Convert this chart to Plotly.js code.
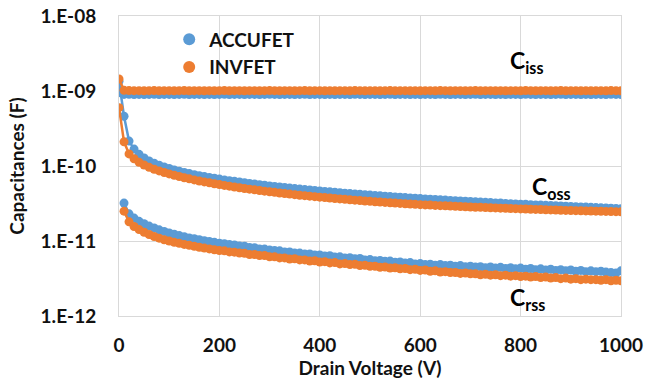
<!DOCTYPE html>
<html>
<head>
<meta charset="utf-8">
<script src="https://cdn.plot.ly/plotly-3.0.1.min.js"></script>
<style>html,body{margin:0;padding:0;background:#fff;}#chart{width:660px;height:379px;}</style>
</head>
<body>
<div id="chart"></div>
<script>
// Drain voltage (V)
const voltage = [0,10,20,30,40,50,60,70,80,90,100,110,120,130,140,150,160,170,180,190,200,210,220,230,240,250,260,270,280,290,300,310,320,330,340,350,360,370,380,390,400,410,420,430,440,450,460,470,480,490,500,510,520,530,540,550,560,570,580,590,600,610,620,630,640,650,660,670,680,690,700,710,720,730,740,750,760,770,780,790,800,810,820,830,840,850,860,870,880,890,900,910,920,930,940,950,960,970,980,990,1000];

// Capacitances in pF
const accufetCiss = [950,900,902,898,901,899,900,902,899,900,901,898,900,902,899,900,901,899,900,898,900,902,899,901,900,898,900,901,899,900,902,900,899,901,900,898,900,902,899,900,901,899,900,898,901,900,899,902,900,899,900,901,898,900,902,899,900,901,899,900,898,901,900,899,902,900,899,901,900,898,900,902,899,900,901,899,900,898,901,900,899,902,900,899,900,901,898,900,902,899,900,901,899,900,898,901,900,899,902,900,899];
const invfetCiss = [1450,1020,1012,1010,1011,1009,1010,1012,1009,1010,1011,1008,1010,1012,1009,1010,1011,1009,1010,1008,1010,1012,1009,1011,1010,1008,1010,1011,1009,1010,1012,1010,1009,1011,1010,1008,1010,1012,1009,1010,1011,1009,1010,1008,1011,1010,1009,1012,1010,1009,1010,1011,1008,1010,1012,1009,1010,1011,1009,1010,1008,1011,1010,1009,1012,1010,1009,1011,1010,1008,1010,1012,1009,1010,1011,1009,1010,1008,1011,1010,1009,1012,1010,1009,1010,1011,1008,1010,1012,1009,1010,1011,1009,1010,1008,1011,1010,1009,1012,1010,1009];

const accufetCoss = [1350,460,215,168,143,128,117,109,102.5,97,92.5,88.5,85,82,79.2,76.7,74.4,72.3,70.4,68.6,66.9,65.3,63.8,62.4,61.1,59.8,58.6,57.5,56.4,55.3,54.3,53.4,52.5,51.6,50.8,50.0,49.2,48.5,47.8,47.1,46.4,45.8,45.2,44.6,44.0,43.4,42.9,42.4,41.9,41.4,40.9,40.4,40.0,39.5,39.1,38.7,38.3,37.9,37.5,37.1,36.8,36.4,36.1,35.7,35.4,35.1,34.8,34.5,34.2,33.9,33.6,33.3,33.0,32.8,32.5,32.2,32.0,31.7,31.5,31.2,31.0,30.8,30.5,30.3,30.1,29.9,29.7,29.5,29.3,29.1,28.9,28.7,28.5,28.3,28.1,27.9,27.7,27.6,27.4,27.2,27.0];
const invfetCoss = [600,210,145,125,112,103,96,90.5,86,82,78.5,75.3,72.4,69.8,67.4,65.2,63.2,61.3,59.6,58.0,56.5,55.1,53.8,52.5,51.3,50.2,49.1,48.1,47.1,46.2,45.3,44.5,43.7,42.9,42.2,41.5,40.8,40.2,39.6,39.0,38.4,37.9,37.4,36.9,36.4,35.9,35.5,35.0,34.6,34.2,33.8,33.4,33.1,32.7,32.4,32.0,31.7,31.4,31.1,30.8,30.5,30.3,30.1,29.8,29.6,29.4,29.2,29.0,28.8,28.6,28.4,28.2,28.1,27.9,27.8,27.6,27.4,27.3,27.1,27.0,26.8,26.7,26.5,26.4,26.3,26.1,26.0,25.9,25.7,25.6,25.5,25.4,25.3,25.2,25.1,25.0,24.9,24.8,24.7,24.6,24.5];

const accufetCrss = [null,32,23,20.2,18.3,17.0,15.8,14.9,14.1,13.4,12.8,12.3,11.8,11.4,11.0,10.7,10.4,10.1,9.85,9.6,9.35,9.2,8.95,8.85,8.55,8.5,8.2,8.15,7.85,7.8,7.6,7.45,7.4,7.15,7.15,6.9,6.9,6.7,6.7,6.5,6.5,6.3,6.35,6.1,6.15,5.95,6.0,5.8,5.85,5.6,5.65,5.45,5.5,5.35,5.4,5.2,5.25,5.1,5.15,4.95,5.0,4.85,4.9,4.75,4.85,4.7,4.75,4.6,4.7,4.55,4.6,4.5,4.55,4.4,4.5,4.35,4.45,4.3,4.4,4.25,4.35,4.2,4.3,4.15,4.25,4.1,4.2,4.05,4.15,4.0,4.1,3.95,4.05,3.9,4.0,3.9,3.95,3.85,3.8,3.75,4.0];
const invfetCrss = [null,25,18,15.6,14.2,13.1,12.2,11.5,10.9,10.4,10.0,9.6,9.3,9.0,8.75,8.5,8.25,8.05,7.85,7.65,7.45,7.4,7.15,7.1,6.9,6.85,6.6,6.6,6.4,6.4,6.15,6.15,5.95,5.95,5.75,5.8,5.6,5.6,5.4,5.45,5.25,5.3,5.1,5.15,4.95,5.0,4.85,4.9,4.7,4.75,4.6,4.6,4.45,4.5,4.35,4.4,4.25,4.3,4.15,4.2,4.05,4.1,3.95,4.0,3.85,3.9,3.8,3.8,3.7,3.75,3.65,3.65,3.55,3.6,3.5,3.55,3.45,3.5,3.4,3.45,3.35,3.4,3.3,3.35,3.25,3.3,3.2,3.25,3.15,3.2,3.1,3.15,3.05,3.1,3.05,3.05,3.0,3.05,2.95,3.0,2.95];

const yTickVals = [1e-12, 1e-11, 1e-10, 1e-9, 1e-8];
const yTickText = ['1.E-12', '1.E-11', '1.E-10', '1.E-09', '1.E-08'];
const seriesNames = ['ACCUFET', 'INVFET'];
const curveLabels = ['C<sub>iss</sub>', 'C<sub>oss</sub>', 'C<sub>rss</sub>'];

const BLUE = '#5B9BD5', ORANGE = '#ED7D31';
const FONT = 'Lato, "Open Sans", sans-serif';
const toF = arr => arr.map(v => v === null ? null : v * 1e-12);

function curve(y, color) {
  return {x: voltage, y: toF(y), type: 'scatter', mode: 'lines+markers',
    line: {color: color, width: 2.5}, marker: {color: color, size: 9},
    showlegend: false, hoverinfo: 'skip'};
}

const data = [
  curve(accufetCiss, BLUE), curve(accufetCoss, BLUE), curve(accufetCrss, BLUE),
  curve(invfetCiss, ORANGE), curve(invfetCoss, ORANGE), curve(invfetCrss, ORANGE),
  {x: [null], y: [null], type: 'scatter', mode: 'markers', name: seriesNames[0], marker: {color: BLUE, size: 10}, showlegend: true},
  {x: [null], y: [null], type: 'scatter', mode: 'markers', name: seriesNames[1], marker: {color: ORANGE, size: 10}, showlegend: true}
];

const annFont = {family: FONT, size: 23, color: '#000', weight: 700};
const tickFont = {family: FONT, size: 19, weight: 700, color: '#111'};
const layout = {
  width: 660, height: 379,
  margin: {l: 119, r: 39, t: 16, b: 63},
  paper_bgcolor: '#fff', plot_bgcolor: '#fff',
  font: {family: FONT, color: '#000'},
  xaxis: {
    range: [0, 1000], dtick: 200, tick0: 0,
    showgrid: true, gridcolor: '#D9D9D9', gridwidth: 1,
    showline: true, linecolor: '#D9D9D9', mirror: true, zeroline: false,
    ticks: '', ticklabelstandoff: 12,
    tickfont: tickFont,
    title: {text: 'Drain Voltage (V)', font: {family: FONT, size: 19, weight: 700, color: '#111'}, standoff: 0}
  },
  yaxis: {
    type: 'log', range: [-12, -8],
    tickvals: yTickVals, ticktext: yTickText,
    showgrid: true, gridcolor: '#D9D9D9', gridwidth: 1,
    showline: true, linecolor: '#D9D9D9', mirror: true, zeroline: false,
    ticks: '', ticklabelstandoff: 18,
    tickfont: tickFont,
    title: {text: 'Capacitances (F)', font: {family: FONT, size: 19, weight: 700, color: '#111'}, standoff: 10}
  },
  legend: {
    x: 0.1, y: 0.985, xanchor: 'left', yanchor: 'top',
    bgcolor: 'rgba(0,0,0,0)', itemsizing: 'constant', itemwidth: 30,
    font: {family: FONT, size: 19, weight: 700, color: '#111'}
  },
  annotations: [
    {x: 775, y: -8.6, xref: 'x', yref: 'y', text: curveLabels[0], showarrow: false, xanchor: 'left', yanchor: 'middle', font: annFont},
    {x: 819, y: -10.28, xref: 'x', yref: 'y', text: curveLabels[1], showarrow: false, xanchor: 'left', yanchor: 'middle', font: annFont},
    {x: 775, y: -11.76, xref: 'x', yref: 'y', text: curveLabels[2], showarrow: false, xanchor: 'left', yanchor: 'middle', font: annFont}
  ],
  showlegend: true
};

Plotly.newPlot('chart', data, layout, {staticPlot: true, displayModeBar: false});
</script>
</body>
</html>
